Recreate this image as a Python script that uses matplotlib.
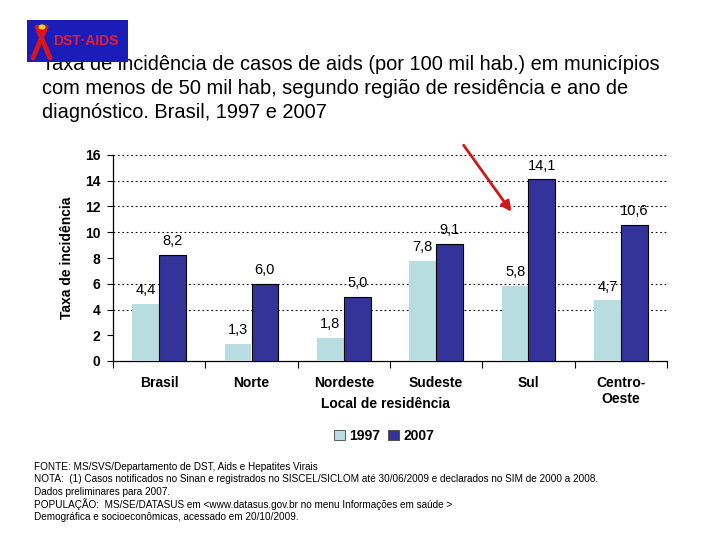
import matplotlib
matplotlib.use("Agg")
import matplotlib.pyplot as plt
from matplotlib.patches import Rectangle, Circle
from matplotlib.lines import Line2D
import numpy as np

plt.rcParams['font.family'] = ['Liberation Sans', 'DejaVu Sans']

categories = ["Brasil", "Norte", "Nordeste", "Sudeste", "Sul", "Centro-\nOeste"]
values_1997 = [4.4, 1.3, 1.8, 7.8, 5.8, 4.7]
values_2007 = [8.2, 6.0, 5.0, 9.1, 14.1, 10.6]
series_names = ["1997", "2007"]
yticks = [0, 2, 4, 6, 8, 10, 12, 14, 16]
grid_levels = [4, 6, 10, 12, 14, 16]

title = ("Taxa de incidência de casos de aids (por 100 mil hab.) em municípios\n"
         "com menos de 50 mil hab, segundo região de residência e ano de\n"
         "diagnóstico. Brasil, 1997 e 2007")
footnotes = [
    "FONTE: MS/SVS/Departamento de DST, Aids e Hepatites Virais",
    "NOTA:  (1) Casos notificados no Sinan e registrados no SISCEL/SICLOM até 30/06/2009 e declarados no SIM de 2000 a 2008.",
    "Dados preliminares para 2007.",
    "POPULAÇÃO:  MS/SE/DATASUS em <www.datasus.gov.br no menu Informações em saúde >",
    "Demográfica e socioeconômicas, acessado em 20/10/2009.",
]

W, H = 720, 540
fig = plt.figure(figsize=(7.2, 5.4), dpi=100)
fig.patch.set_facecolor("white")

ax = fig.add_axes([113 / W, 1 - 361 / H, (667 - 113) / W, (361 - 155) / H])

c1997 = "#B8DDE0"
c2007 = "#333399"
x = np.arange(len(categories))
bw = 0.29
b1 = ax.bar(x - bw / 2, values_1997, bw, color=c1997, edgecolor="none", zorder=3, label=series_names[0])
b2 = ax.bar(x + bw / 2, values_2007, bw, color=c2007, edgecolor="black", linewidth=0.8, zorder=3, label=series_names[1])

for bars, vals in ((b1, values_1997), (b2, values_2007)):
    for rect, v in zip(bars, vals):
        ax.annotate(f"{v:.1f}".replace(".", ","),
                    (rect.get_x() + rect.get_width() / 2, rect.get_height()),
                    xytext=(0, 5), textcoords="offset points",
                    ha="center", va="bottom", fontsize=10.5, color="black", zorder=4)

for g in grid_levels:
    ax.axhline(g, color="black", linestyle=(0, (1.5, 2.5)), linewidth=0.8, zorder=1)

ax.set_xlim(-0.5, len(categories) - 0.5)
ax.set_ylim(0, 16)
ax.set_yticks(yticks)
ax.set_yticklabels([str(t) for t in yticks], fontsize=10, fontweight="bold")
ax.tick_params(axis="y", length=4, width=0.8, pad=5)

ax.set_xticks(np.arange(len(categories) + 1) - 0.5)
ax.set_xticklabels([])
ax.tick_params(axis="x", which="major", length=5, width=0.8, direction="out")
ax.set_xticks(x, minor=True)
ax.set_xticklabels(categories, minor=True, fontsize=10, fontweight="bold", linespacing=1.2)
ax.tick_params(axis="x", which="minor", length=0, pad=11)

for s in ("top", "right"):
    ax.spines[s].set_visible(False)
for s in ("left", "bottom"):
    ax.spines[s].set_linewidth(0.9)

ax.set_ylabel("Taxa de incidência", fontsize=10, fontweight="bold", labelpad=8)

fig.text(385 / W, 1 - 404 / H, "Local de residência", ha="center", va="center",
         fontsize=10, fontweight="bold")

leg = fig.legend(handles=[b1, b2], labels=series_names, loc="center",
                 bbox_to_anchor=(384 / W, 1 - 436 / H), ncol=2, frameon=False,
                 prop={"weight": "bold", "size": 10}, handlelength=0.8, handleheight=0.8,
                 handletextpad=0.3, columnspacing=0.6, borderaxespad=0)
for h in leg.legend_handles:
    h.set_edgecolor("#444444")
    h.set_linewidth(0.6)

fig.text(42 / W, 1 - 55 / H, title, ha="left", va="top", fontsize=14.4, linespacing=1.32)

y0 = 467
for i, line in enumerate(footnotes):
    fig.text(34 / W, 1 - (y0 + i * 12.5) / H, line, ha="left", va="center", fontsize=7.2)

# arrow annotation
ax.annotate("", xy=(513, H - 214), xycoords="figure pixels",
            xytext=(462, H - 143), textcoords="figure pixels",
            arrowprops=dict(arrowstyle="-|>,head_length=0.6,head_width=0.3",
                            color="#D01818", linewidth=2))

# logo
fig.patches.append(Rectangle((27 / W, 1 - 62 / H), (128 - 27) / W, 42 / H,
                             transform=fig.transFigure, facecolor="#1C1CB8",
                             edgecolor="none", zorder=5))
rib1 = Line2D([33 / W, 46 / W], [1 - 58 / H, 1 - 27 / H], transform=fig.transFigure,
              color="#D8141C", linewidth=3.5, zorder=6, solid_capstyle="round")
rib2 = Line2D([37 / W, 50 / W], [1 - 27 / H, 1 - 58 / H], transform=fig.transFigure,
              color="#D8141C", linewidth=3.5, zorder=6, solid_capstyle="round")
fig.lines.extend([rib1, rib2])
fig.patches.append(Circle((42 / W, 1 - 27 / H), 3.5 / W, transform=fig.transFigure,
                          facecolor="#E8D030", edgecolor="none", zorder=7))
fig.text(86 / W, 1 - 41 / H, "DST·AIDS", ha="center", va="center", fontsize=10,
         fontweight="bold", color="#E0203A", zorder=8)

fig.savefig("out.png", dpi=100)
